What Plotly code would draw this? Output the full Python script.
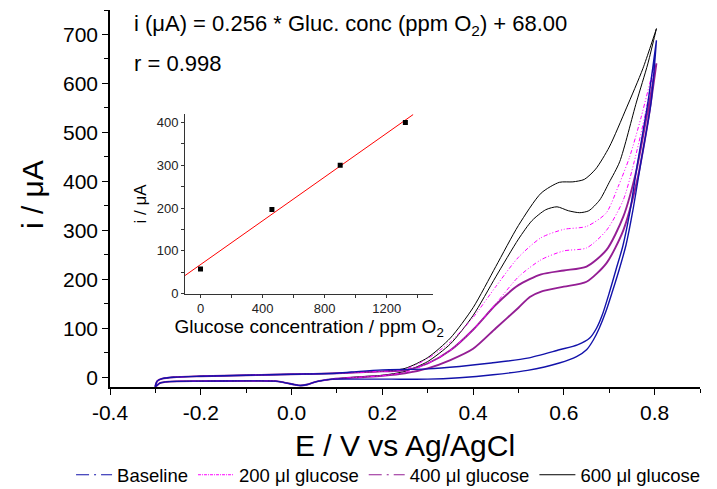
import plotly.graph_objects as go

FONT = "Liberation Sans, Arial, sans-serif"

# ---------------- main CV data (E / V, i / uA) ----------------
# shared low-potential region (all curves overlap there)
low_fwd_E = [-0.300, -0.296, -0.285, -0.260, -0.200, -0.100, 0.000, 0.100]
low_fwd_I = [-19, -8, -3, 0, 2, 4, 6, 8]
low_rev_E = [0.090, 0.055, 0.035, 0.020, 0.005, -0.010, -0.035, -0.100, -0.200, -0.270, -0.290, -0.300]
low_rev_I = [-4, -9, -15, -17, -15, -12, -8, -7.5, -8, -9, -12, -19]

# Baseline
base_fwd_E = [0.15, 0.20, 0.30, 0.37, 0.44, 0.52, 0.59, 0.63, 0.657, 0.672, 0.685, 0.70, 0.715, 0.73, 0.745, 0.762, 0.785, 0.804]
base_fwd_I = [12, 15, 17, 22, 29, 39, 56, 66, 80, 100, 128, 172, 220, 268, 335, 435, 560, 688]
base_rev_E = [0.804, 0.792, 0.770, 0.752, 0.737, 0.722, 0.707, 0.693, 0.678, 0.665, 0.650, 0.628, 0.590, 0.520, 0.444, 0.370, 0.300, 0.220, 0.150]
base_rev_I = [688, 560, 440, 340, 270, 220, 175, 135, 100, 76, 56, 42, 29, 14, 5, -1, -4, -4, -4]

# 200 ul glucose
g200_fwd_E = [0.15, 0.20, 0.25, 0.30, 0.35, 0.40, 0.45, 0.50, 0.55, 0.60, 0.65, 0.693, 0.72, 0.745, 0.77, 0.80]
g200_fwd_I = [10, 12, 16, 38, 72, 122, 185, 245, 285, 302, 308, 335, 390, 450, 530, 640]
g200_rev_E = [0.80, 0.78, 0.755, 0.731, 0.694, 0.65, 0.60, 0.55, 0.50, 0.45, 0.40, 0.35, 0.30, 0.25, 0.20, 0.15]
g200_rev_I = [640, 540, 440, 362, 300, 264, 258, 240, 205, 150, 97, 55, 28, 10, 3, 0]

# 400 ul glucose
g400_fwd_E = [0.15, 0.20, 0.25, 0.30, 0.35, 0.40, 0.45, 0.50, 0.55, 0.60, 0.65, 0.694, 0.731, 0.760, 0.78, 0.804]
g400_fwd_I = [10, 12, 14, 28, 55, 97, 148, 188, 210, 218, 226, 260, 328, 423, 520, 641]
g400_rev_E = [0.804, 0.785, 0.760, 0.731, 0.694, 0.65, 0.60, 0.55, 0.525, 0.50, 0.45, 0.40, 0.35, 0.30, 0.25, 0.20, 0.15]
g400_rev_I = [641, 520, 396, 300, 233, 195, 185, 175, 164, 142, 100, 58, 35, 18, 8, 3, 0]

# 600 ul glucose
g600_fwd_E = [0.15, 0.20, 0.25, 0.30, 0.35, 0.40, 0.45, 0.50, 0.55, 0.59, 0.62, 0.645, 0.67, 0.70, 0.738, 0.774, 0.804]
g600_fwd_I = [10, 12, 18, 40, 80, 142, 226, 310, 376, 398, 399, 404, 425, 470, 550, 630, 712]
g600_rev_E = [0.804, 0.785, 0.760, 0.723, 0.700, 0.679, 0.655, 0.635, 0.610, 0.585, 0.560, 0.530, 0.50, 0.45, 0.40, 0.35, 0.30, 0.25, 0.20, 0.15]
g600_rev_I = [712, 640, 562, 440, 398, 362, 340, 336, 340, 348, 342, 320, 282, 205, 126, 68, 32, 12, 4, 1]

series_names = ["Baseline", "200 \u03bcl glucose", "400 \u03bcl glucose", "600 \u03bcl glucose"]

# ---------------- inset calibration data ----------------
conc_ppm = [0, 460, 900, 1320]
peak_i = [58, 197, 300, 400]
fit_slope = 0.256
fit_intercept = 68.00
fit_x = [-100, 1370]

x_tick_vals = [-0.4, -0.2, 0.0, 0.2, 0.4, 0.6, 0.8]
x_tick_text = ["-0.4", "-0.2", "0.0", "0.2", "0.4", "0.6", "0.8"]
y_tick_vals = [0, 100, 200, 300, 400, 500, 600, 700]
inset_x_ticks = [0, 400, 800, 1200]
inset_y_ticks = [0, 100, 200, 300, 400]


def loop(fE, fI, rE, rI):
    return (low_fwd_E + fE + rE + low_rev_E, low_fwd_I + fI + rI + low_rev_I)


fig = go.Figure()

styles = {
    "Baseline": dict(color="#1212AA", width=1.4, dash="solid"),
    "200": dict(color="#FF00FF", width=1.0, dash="4px,2px,1px,2px,1px,2px"),
    "400": dict(color="#941E94", width=1.9, dash="solid"),
    "600": dict(color="#000000", width=1.0, dash="solid"),
}

curves = [
    ("600", loop(g600_fwd_E, g600_fwd_I, g600_rev_E, g600_rev_I)),
    ("400", loop(g400_fwd_E, g400_fwd_I, g400_rev_E, g400_rev_I)),
    ("200", loop(g200_fwd_E, g200_fwd_I, g200_rev_E, g200_rev_I)),
    ("Baseline", loop(base_fwd_E, base_fwd_I, base_rev_E, base_rev_I)),
]
for key, (E, I) in curves:
    fig.add_trace(go.Scatter(x=E, y=I, mode="lines", line=dict(shape="spline", smoothing=0.7, **styles[key]),
                             showlegend=False, hoverinfo="skip"))

# legend entries (Origin-style line samples)
legend_styles = [
    (series_names[0], dict(color="#1212AA", width=1.2, dash="13px,5px,2px,5px")),
    (series_names[1], dict(color="#FF00FF", width=1.0, dash="3px,1px,1px,1px")),
    (series_names[2], dict(color="#941E94", width=1.2, dash="13px,5px,2px,5px")),
    (series_names[3], dict(color="#000000", width=1.0, dash="solid")),
]
for name, ln in legend_styles:
    fig.add_trace(go.Scatter(x=[None], y=[None], mode="lines", name=name, line=ln, showlegend=True))

# inset
fig.add_trace(go.Scatter(x=fit_x, y=[fit_intercept + fit_slope * v for v in fit_x], mode="lines",
                         line=dict(color="#FF0000", width=1), xaxis="x2", yaxis="y2", showlegend=False))
fig.add_trace(go.Scatter(x=conc_ppm, y=peak_i, mode="markers",
                         marker=dict(symbol="square", size=5, color="#000000"),
                         xaxis="x2", yaxis="y2", showlegend=False))

axis_common = dict(showgrid=False, zeroline=False, showline=True, linecolor="#000000",
                   ticks="outside", tickcolor="#000000", mirror=False, automargin=False)

fig.update_layout(
    width=717, height=489,
    margin=dict(l=110, r=17, t=10, b=102, autoexpand=False),
    paper_bgcolor="white", plot_bgcolor="white",
    font=dict(family=FONT, color="#000000"),
    xaxis=dict(**axis_common, range=[-0.4, 0.9], tickvals=x_tick_vals, ticktext=x_tick_text,
               linewidth=1.6, ticklen=6, tickwidth=1.4,
               tickfont=dict(size=21, family=FONT),
               minor=dict(tick0=-0.4, dtick=0.1, ticks="outside", ticklen=4, tickwidth=1.2, tickcolor="#000000")),
    yaxis=dict(**axis_common, range=[-20, 750], tickvals=y_tick_vals,
               linewidth=1.6, ticklen=6, tickwidth=1.4,
               tickfont=dict(size=21, family=FONT),
               minor=dict(tick0=0, dtick=50, ticks="outside", ticklen=4, tickwidth=1.2, tickcolor="#000000")),
    xaxis2=dict(showgrid=False, zeroline=False, showline=True, linecolor="#333333", linewidth=1,
                ticks="outside", tickcolor="#333333", ticklen=3, automargin=False,
                domain=[0.1271, 0.548], anchor="y2", range=[-100, 1500], tickvals=inset_x_ticks,
                tickfont=dict(size=13, family=FONT, color="#222222"),
                minor=dict(tick0=0, dtick=200, ticks="outside", ticklen=3, tickcolor="#333333"),
                title=dict(text="Glucose concentration / ppm O<sub>2</sub>", font=dict(size=19, family=FONT),
                           standoff=1)),
    yaxis2=dict(showgrid=False, zeroline=False, showline=True, linecolor="#333333", linewidth=1,
                ticks="outside", tickcolor="#333333", ticklen=3, automargin=False,
                domain=[0.2475, 0.7241], anchor="x2", range=[0, 420], tickvals=inset_y_ticks,
                tickfont=dict(size=13, family=FONT, color="#222222"),
                minor=dict(tick0=0, dtick=50, ticks="outside", ticklen=3, tickcolor="#333333"),
                title=dict(text="i / \u03bcA", font=dict(size=17, family=FONT), standoff=5)),
    legend=dict(orientation="h", x=-0.066, xanchor="left", y=-0.234, yanchor="middle",
                font=dict(size=18.5, family=FONT), bgcolor="rgba(0,0,0,0)", itemwidth=36,
                tracegroupgap=0),
    annotations=[
        dict(text="i (\u03bcA) = 0.256 * Gluc. conc (ppm O<sub>2</sub>) + 68.00", xref="paper", yref="paper",
             x=0.0373, y=0.960, xanchor="left", yanchor="middle", showarrow=False,
             font=dict(size=22, family=FONT)),
        dict(text="r = 0.998", xref="paper", yref="paper", x=0.0373, y=0.859, xanchor="left",
             yanchor="middle", showarrow=False, font=dict(size=22, family=FONT)),
        dict(text="E / V vs Ag/AgCl", xref="paper", yref="paper", x=0.5, y=-0.154,
             xanchor="center", yanchor="middle", showarrow=False, font=dict(size=30, family=FONT)),
        dict(text="i / \u03bcA", xref="paper", yref="paper", x=-0.1322, y=0.509, textangle=-90,
             xanchor="center", yanchor="middle", showarrow=False, font=dict(size=30, family=FONT)),
    ],
)

fig.write_html("out.html")
